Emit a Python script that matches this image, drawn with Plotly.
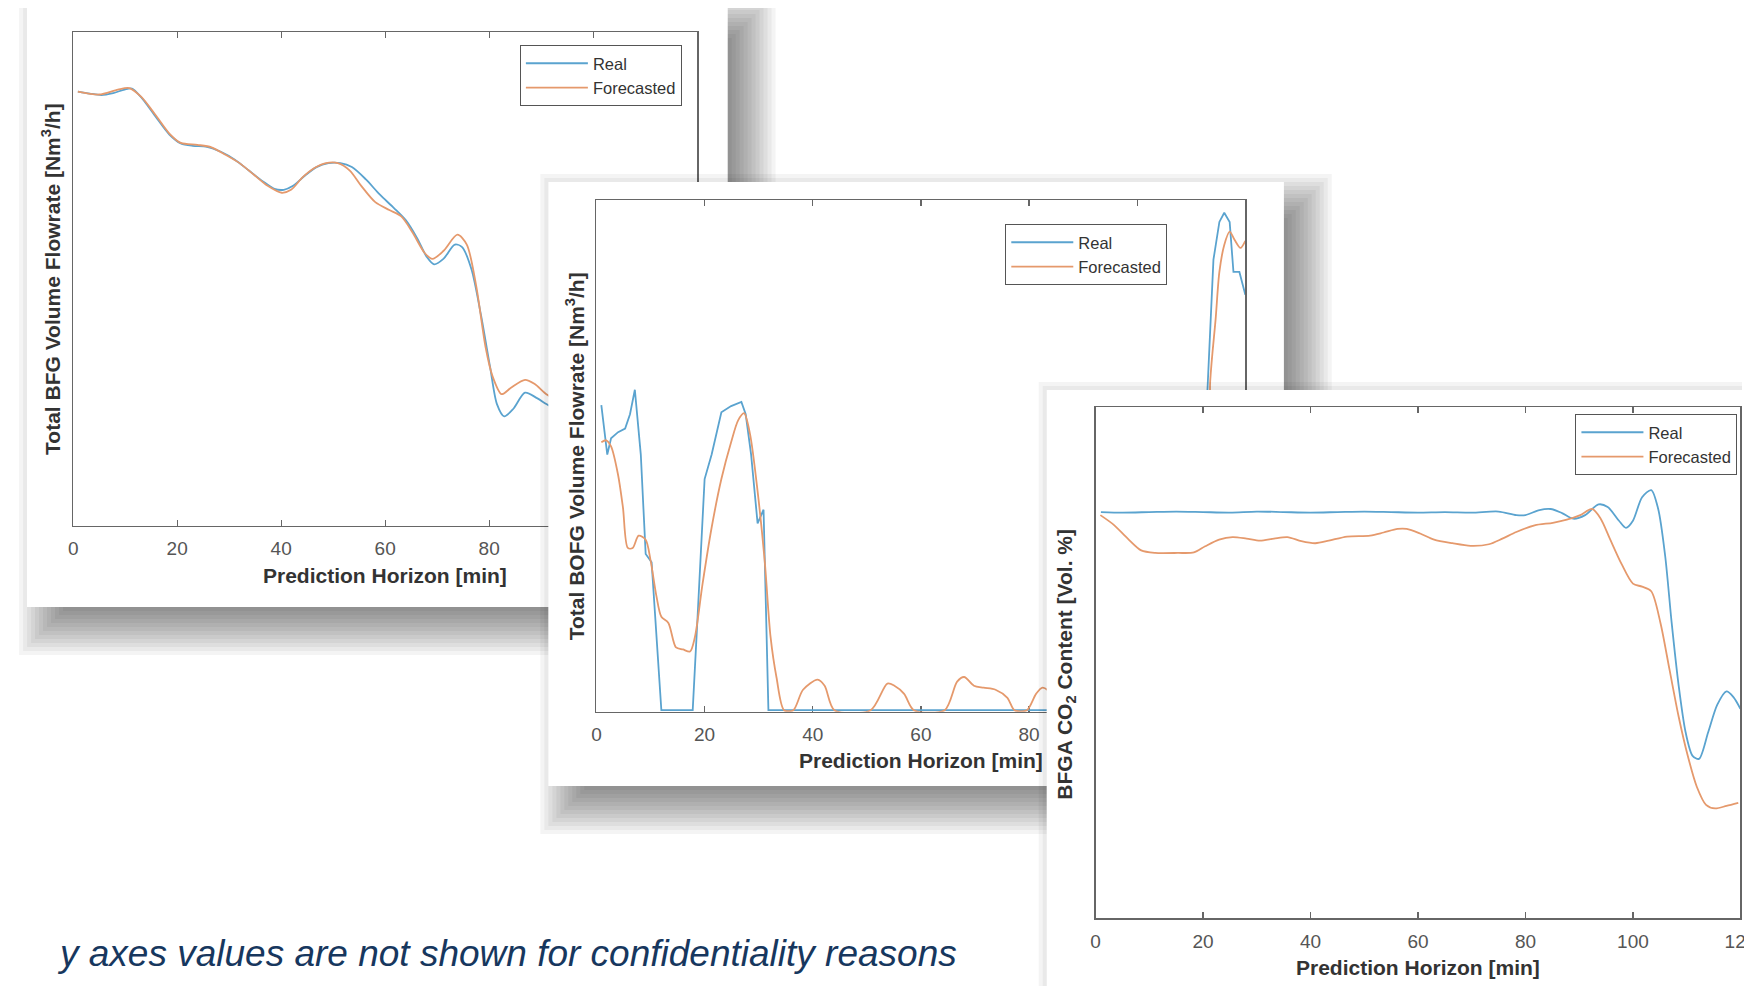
import plotly.graph_objects as go

# ---------------- canvas ----------------
W, H = 1752, 994          # target picture
OFF = 8                   # default body margin of the page
S = 1752 / 1767.5         # horizontal scale observed between page and picture
FW, FH = 1750, H - 2 * OFF

# ---------------- data (y values normalised, axis bottom = 0, top = 100) ----------------
# Panel 1: Total BFG Volume Flowrate
bfg_t_real = [0.9, 3.2, 5.4, 7.7, 9.9, 11.3, 13.1, 15.8, 18.5, 20.7, 23.0, 25.7, 28.4, 31.1, 33.8,
              36.5, 38.7, 40.5, 42.3, 44.6, 46.8, 49.1, 51.4, 53.6, 56.3, 59.0, 61.7, 64.0, 66.2,
              68.0, 69.4, 71.2, 73.4, 74.8, 76.6, 78.4, 80.2, 81.5, 82.9, 84.7, 86.9, 89.2, 91.0, 93.0]
bfg_real = [88.0, 87.6, 87.3, 87.7, 88.4, 88.6, 86.8, 83.0, 79.3, 77.5, 77.0, 76.8, 75.8, 74.2, 72.0,
            69.8, 68.3, 68.1, 68.9, 71.0, 72.7, 73.5, 73.5, 72.7, 70.2, 67.1, 64.4, 61.9, 58.2,
            54.5, 53.0, 54.1, 57.0, 56.5, 52.0, 42.9, 32.1, 24.7, 22.2, 23.8, 27.0, 25.9, 24.7, 23.5]
bfg_t_fc = [0.9, 5.0, 8.6, 10.8, 13.1, 15.8, 18.5, 20.7, 23.9, 26.6, 29.3, 32.0, 34.7, 37.4, 40.1,
            41.9, 44.1, 46.4, 48.6, 50.9, 53.2, 55.4, 58.1, 60.8, 63.1, 65.3, 67.6, 69.1, 71.2,
            73.9, 75.7, 77.5, 79.3, 80.6, 82.4, 84.2, 86.9, 88.7, 91.0, 93.0]
bfg_fc = [88.0, 87.4, 88.4, 88.7, 86.9, 83.3, 79.5, 77.6, 77.2, 76.7, 75.2, 73.5, 71.2, 68.9, 67.5,
          68.1, 70.6, 72.5, 73.5, 73.5, 72.0, 68.9, 65.6, 64.0, 62.7, 59.4, 55.3, 54.1, 55.7,
          59.0, 57.0, 48.7, 36.3, 30.5, 26.7, 28.0, 29.6, 28.8, 26.7, 25.5]

# Panel 2: Total BOFG Volume Flowrate
bofg_t_real = [0.9, 2.0, 2.7, 4.0, 5.3, 6.2, 7.1, 8.2, 9.1, 10.2, 12.0, 17.8, 18.7, 20.0, 21.3,
               23.1, 24.9, 26.8, 27.6, 28.6, 29.8, 30.9, 31.8, 111.9, 113.0, 114.1, 115.2, 116.1,
               117.1, 117.8, 118.9, 119.3, 120.0]
bofg_real = [59.8, 50.1, 53.3, 54.5, 55.2, 58.0, 62.8, 50.1, 30.6, 29.0, 0.0, 0.0, 18.3, 45.3, 50.1,
             58.4, 59.6, 60.4, 58.0, 50.1, 36.6, 39.3, 0.0, 0.0, 62.9, 88.3, 95.7, 97.5,
             95.7, 85.9, 85.9, 84.4, 81.4]
bofg_t_fc = [0.9, 1.8, 2.7, 4.0, 4.9, 5.8, 6.7, 7.8, 9.1, 10.0, 11.1, 12.0, 13.3, 14.7, 16.0, 17.3,
             18.2, 19.6, 21.3, 23.1, 24.9, 26.2, 27.3, 28.4, 29.8, 31.1, 32.2, 33.3, 34.7, 36.4,
             38.2, 40.9, 42.2, 44.0, 50.7, 53.8, 55.1, 56.9, 58.7, 64.4, 66.7, 68.0, 69.8, 71.6,
             73.8, 76.0, 77.3, 79.6, 81.3, 82.5, 84.5, 86.0, 111.1, 113.5, 114.5, 115.2, 116.1,
             117.1, 118.0, 119.1, 120.0]
bofg_fc = [52.5, 52.9, 51.7, 46.1, 39.7, 31.8, 31.8, 34.2, 33.4, 29.4, 22.3, 18.3, 17.1, 12.3, 11.9, 11.5,
           14.3, 24.6, 35.8, 45.3, 52.5, 56.8, 58.2, 54.1, 42.9, 29.4, 14.3, 6.4, 0.0, 0.0,
           4.0, 6.0, 4.8, 0.0, 0.0, 5.2, 4.8, 3.2, 0.0, 0.0, 5.6, 6.5, 4.8, 4.4,
           4.0, 2.4, 0.0, 0.0, 3.2, 4.4, 3.0, 0.0, 0.0, 64.5, 76.6, 85.9, 91.2,
           93.8, 92.2, 90.6, 92.0]

# Panel 3: BFGA CO2 content
co2_t_real = [1, 5, 10, 15, 20, 25, 30, 35, 40, 45, 50, 55, 60, 65, 70, 75, 78.3, 80.0, 82.6, 84.7,
              86.8, 88.9, 91.1, 93.6, 95.3, 97.4, 98.7, 100.0, 101.7, 103.4, 104.7, 106.0, 107.2,
              108.5, 109.8, 111.1, 112.3, 114.0, 115.7, 117.4, 118.7, 120.0]
co2_real = [79.5, 79.4, 79.5, 79.6, 79.5, 79.4, 79.6, 79.5, 79.4, 79.5, 79.6, 79.5, 79.4, 79.5, 79.4,
            79.6, 78.9, 78.9, 79.9, 80.1, 79.3, 78.2, 78.9, 81.0, 80.5, 77.8, 76.4, 77.8, 82.4,
            83.8, 80.1, 70.9, 57.9, 45.6, 36.4, 31.8, 31.2, 36.4, 41.8, 44.4, 43.3, 41.0]
co2_t_fc = [0.9, 3.4, 6.0, 8.5, 11.1, 15.3, 18.3, 20.4, 23.0, 25.5, 28.1, 30.6, 33.2, 35.7, 38.3,
            40.9, 43.4, 46.8, 51.1, 53.6, 56.2, 57.9, 60.4, 63.0, 66.4, 69.8, 73.2, 75.7, 78.3,
            81.7, 85.1, 87.7, 90.2, 92.4, 94.0, 95.7, 97.9, 100.0, 101.7, 103.4, 105.1, 106.8,
            108.5, 110.2, 111.9, 113.6, 115.3, 117.4, 119.6]
co2_fc = [78.9, 77.0, 74.3, 72.0, 71.5, 71.5, 71.6, 72.8, 74.1, 74.6, 74.3, 73.9, 74.3, 74.6, 73.8,
          73.4, 73.9, 74.7, 74.9, 75.5, 76.2, 76.2, 75.3, 74.1, 73.4, 72.9, 73.2, 74.3, 75.6,
          76.9, 77.4, 78.0, 78.9, 80.1, 78.2, 74.3, 69.3, 65.5, 64.9, 64.0, 57.9, 48.7,
          39.5, 31.8, 25.7, 22.2, 21.5, 22.0, 22.6]

x_ticks = [0, 20, 40, 60, 80, 100, 120]
series_names = ["Real", "Forecasted"]
x_title = "Prediction Horizon [min]"
y_titles = ["Total BFG Volume Flowrate [Nm<sup>3</sup>/h]",
            "Total BOFG Volume Flowrate [Nm<sup>3</sup>/h]",
            "BFGA CO<sub>2</sub> Content [Vol. %]"]
footer = "y axes values are not shown for confidentiality reasons"

# ---------------- styling / layout (picture pixel coordinates) ----------------
BLUE = "#5aa3cf"
ORANGE = "#e5996c"
FONT = "Liberation Sans, Arial, Helvetica, sans-serif"
AXC = "#666666"

cards = [(22, 2, 725, 607), (545, 182, 1283, 786), (1045, 390, 1820, 1080)]
areas = [(68.3, 32.3, 694.3, 526.0), (593.3, 200.0, 1244.3, 711.7), (1094.0, 407.3, 1741.0, 918.3)]
legend_pos = [(679, 45), (1166, 224), (1738, 414)]
shapes_real = ["spline", "linear", "spline"]
shapes_fc = ["spline", "spline", "spline"]
panel_data = [
    (bfg_t_real, bfg_real, bfg_t_fc, bfg_fc),
    (bofg_t_real, bofg_real, bofg_t_fc, bofg_fc),
    (co2_t_real, co2_real, co2_t_fc, co2_fc),
]


def xd(p):
    """picture x pixel -> paper fraction"""
    return (p / S - OFF) / FW


def yd(p):
    """picture y pixel -> paper fraction"""
    return 1 - (p - OFF) / FH


fig = go.Figure()
shapes = []
annotations = []
layout = dict(
    width=FW, height=FH, margin=dict(l=0, r=0, t=0, b=0),
    paper_bgcolor="white", plot_bgcolor="rgba(0,0,0,0)",
    font=dict(family=FONT, color="#333333"),
)


def ax_name(n, letter):
    return letter if n == 1 else f"{letter}{n}"


for k in range(3):
    cn = 2 * k + 1  # card subplot (full page, picture-pixel axes)
    pn = 2 * k + 2  # chart subplot
    fig.add_trace(go.Scatter(x=[None], y=[None], xaxis=ax_name(cn, "x"), yaxis=ax_name(cn, "y"),
                             showlegend=False, hoverinfo="skip"))
    layout[ax_name(cn, "xaxis")] = dict(domain=[0, 1], range=[S * OFF, S * (OFF + FW)], visible=False,
                                        anchor=ax_name(cn, "y"), fixedrange=True)
    layout[ax_name(cn, "yaxis")] = dict(domain=[0, 1], range=[OFF + FH, OFF], visible=False,
                                        anchor=ax_name(cn, "x"), fixedrange=True)
    x0, y0, x1, y1 = cards[k]
    dx, dy = 20, 20
    for i in range(15):
        e = -28 + 4 * i
        shapes.append(dict(type="rect", xref=ax_name(cn, "x"), yref=ax_name(cn, "y"), layer="below",
                           x0=x0 + dx - e, x1=x1 + dx + e, y0=y0 + dy - e, y1=y1 + dy + e,
                           fillcolor="rgba(0,0,0,0.042)", line=dict(width=0)))
    shapes.append(dict(type="rect", xref=ax_name(cn, "x"), yref=ax_name(cn, "y"), layer="below",
                       x0=x0, x1=x1, y0=y0, y1=y1, fillcolor="white", line=dict(width=0)))

    tr, yr, tf, yf = panel_data[k]
    lg = "legend" if k == 0 else f"legend{k + 1}"
    fig.add_trace(go.Scatter(x=tr, y=yr, mode="lines", name=series_names[0], legend=lg,
                             line=dict(color=BLUE, width=1.8, shape=shapes_real[k], smoothing=0.8),
                             xaxis=ax_name(pn, "x"), yaxis=ax_name(pn, "y")))
    fig.add_trace(go.Scatter(x=tf, y=yf, mode="lines", name=series_names[1], legend=lg,
                             line=dict(color=ORANGE, width=1.8, shape=shapes_fc[k], smoothing=0.8),
                             xaxis=ax_name(pn, "x"), yaxis=ax_name(pn, "y")))
    ax0, ay0, ax1, ay1 = areas[k]
    layout[ax_name(pn, "xaxis")] = dict(
        domain=[xd(ax0), xd(ax1)], range=[0, 120], tickvals=x_ticks, ticks="inside", ticklen=6,
        tickwidth=1.2, tickcolor=AXC, showline=True, linecolor=AXC, linewidth=1.4, mirror="ticks",
        showgrid=False, zeroline=False, tickfont=dict(size=19, color="#555555", family=FONT),
        ticklabelstandoff=5, anchor=ax_name(pn, "y"), fixedrange=True,
        layer="below traces" if k == 1 else "above traces")
    layout[ax_name(pn, "yaxis")] = dict(
        domain=[yd(ay1), yd(ay0)], range=[-0.3 if k == 1 else 0, 100], showline=True,
        linecolor=AXC, linewidth=1.4, mirror=True, ticks="", showticklabels=False, showgrid=False,
        zeroline=False, anchor=ax_name(pn, "x"), fixedrange=True)
    lx, ly = legend_pos[k]
    layout[lg] = dict(x=xd(lx), y=yd(ly), xanchor="right", yanchor="top", bgcolor="white",
                      bordercolor="#555555", borderwidth=1, itemwidth=62,
                      font=dict(size=16.5, color="#333333", family=FONT), tracegroupgap=0)
    annotations.append(dict(text=f"<b>{x_title}</b>", xref="paper", yref="paper",
                            x=xd((ax0 + ax1) / 2), y=yd(ay1 + 49), xanchor="center", yanchor="middle",
                            showarrow=False, font=dict(size=21, color="#333333", family=FONT)))

ytitle_pos = [(46, 279), (572, 456), (1064, 664)]
for k in range(3):
    px, py = ytitle_pos[k]
    annotations.append(dict(text=f"<b>{y_titles[k]}</b>", xref="paper", yref="paper",
                            x=xd(px), y=yd(py), xanchor="center", yanchor="middle", textangle=-90,
                            showarrow=False, font=dict(size=21, color="#333333", family=FONT)))

annotations.append(dict(text=f"<i>{footer}</i>", xref="paper", yref="paper", x=xd(50), y=yd(953),
                        xanchor="left", yanchor="middle", showarrow=False,
                        font=dict(size=37, color="#17375e", family=FONT)))

layout["shapes"] = shapes
layout["annotations"] = annotations
layout["showlegend"] = True
fig.update_layout(**layout)

fig.write_html("out.html", config={"displayModeBar": False, "staticPlot": True})
